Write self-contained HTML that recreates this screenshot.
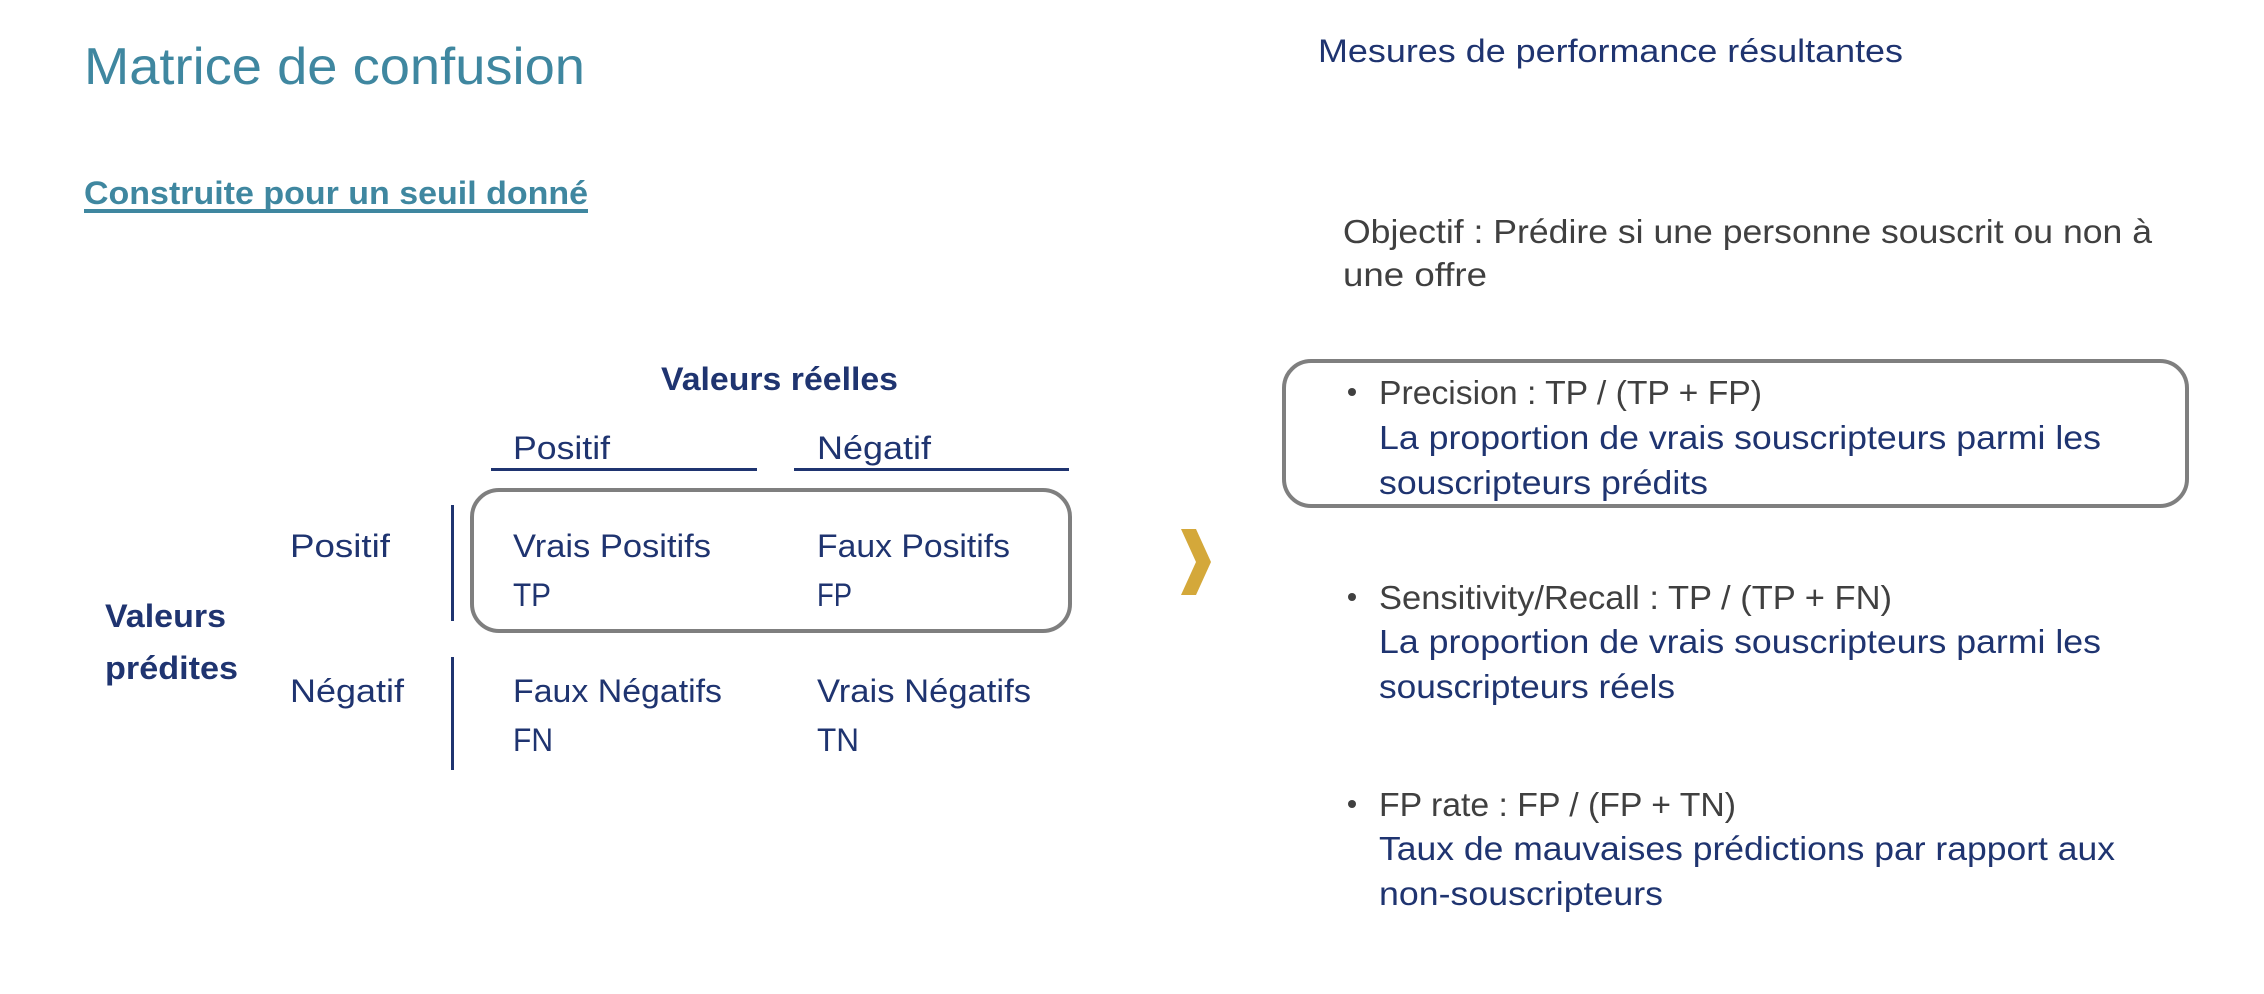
<!DOCTYPE html>
<html><head><meta charset="utf-8"><style>
html,body{margin:0;padding:0;background:#fff;width:2264px;height:994px;overflow:hidden}
svg{display:block}
text{font-family:"Liberation Sans",sans-serif;}
.b{fill:#1f3470}
.g{fill:#404040}
</style></head><body>
<svg width="2264" height="994" viewBox="0 0 2264 994" xmlns="http://www.w3.org/2000/svg">
<text x="84" y="84" font-size="52" fill="#3f87a0" textLength="501" lengthAdjust="spacingAndGlyphs">Matrice de confusion</text>
<text x="84" y="204" font-size="32" font-weight="bold" fill="#3f87a0" textLength="504" lengthAdjust="spacingAndGlyphs">Construite pour un seuil donné</text>
<rect x="84" y="209" width="504" height="4" fill="#3f87a0"/>

<text x="661" y="390" font-size="32" font-weight="bold" class="b" textLength="237" lengthAdjust="spacingAndGlyphs">Valeurs réelles</text>
<text x="513" y="459" font-size="32" class="b" textLength="97" lengthAdjust="spacingAndGlyphs">Positif</text>
<text x="817" y="459" font-size="32" class="b" textLength="114" lengthAdjust="spacingAndGlyphs">Négatif</text>
<rect x="491" y="468" width="266" height="3" fill="#1f3470"/>
<rect x="794" y="468" width="275" height="3" fill="#1f3470"/>

<text x="290" y="557" font-size="32" class="b" textLength="100" lengthAdjust="spacingAndGlyphs">Positif</text>
<rect x="451" y="505" width="3" height="116" fill="#1f3470"/>
<text x="513" y="557" font-size="32" class="b" textLength="198" lengthAdjust="spacingAndGlyphs">Vrais Positifs</text>
<text x="513" y="606" font-size="32" class="b" textLength="38" lengthAdjust="spacingAndGlyphs">TP</text>
<text x="817" y="557" font-size="32" class="b" textLength="193" lengthAdjust="spacingAndGlyphs">Faux Positifs</text>
<text x="817" y="606" font-size="32" class="b" textLength="35" lengthAdjust="spacingAndGlyphs">FP</text>
<rect x="472" y="490" width="598" height="141" rx="27" fill="none" stroke="#7f7f7f" stroke-width="4"/>

<text x="105" y="627" font-size="32" font-weight="bold" class="b" textLength="121" lengthAdjust="spacingAndGlyphs">Valeurs</text>
<text x="105" y="679" font-size="32" font-weight="bold" class="b" textLength="133" lengthAdjust="spacingAndGlyphs">prédites</text>

<text x="290" y="702" font-size="32" class="b" textLength="114" lengthAdjust="spacingAndGlyphs">Négatif</text>
<rect x="451" y="657" width="3" height="113" fill="#1f3470"/>
<text x="513" y="702" font-size="32" class="b" textLength="209" lengthAdjust="spacingAndGlyphs">Faux Négatifs</text>
<text x="513" y="751" font-size="32" class="b" textLength="40" lengthAdjust="spacingAndGlyphs">FN</text>
<text x="817" y="702" font-size="32" class="b" textLength="214" lengthAdjust="spacingAndGlyphs">Vrais Négatifs</text>
<text x="817" y="751" font-size="32" class="b" textLength="42" lengthAdjust="spacingAndGlyphs">TN</text>

<polygon points="1181,529 1196,529 1211,562 1196,595 1181,595 1196,562" fill="#d4a83a"/>

<text x="1318" y="62" font-size="32" class="b" textLength="585" lengthAdjust="spacingAndGlyphs">Mesures de performance résultantes</text>
<text x="1343" y="243" font-size="33" class="g" textLength="809" lengthAdjust="spacingAndGlyphs">Objectif : Prédire si une personne souscrit ou non à</text>
<text x="1343" y="286" font-size="33" class="g" textLength="144" lengthAdjust="spacingAndGlyphs">une offre</text>

<rect x="1284" y="361" width="903" height="145" rx="27" fill="none" stroke="#7f7f7f" stroke-width="4"/>
<circle cx="1352" cy="392" r="4" fill="#404040"/>
<text x="1379" y="404" font-size="33" class="g" textLength="383" lengthAdjust="spacingAndGlyphs">Precision : TP / (TP + FP)</text>
<text x="1379" y="449" font-size="33" class="b" textLength="722" lengthAdjust="spacingAndGlyphs">La proportion de vrais souscripteurs parmi les</text>
<text x="1379" y="494" font-size="33" class="b" textLength="329" lengthAdjust="spacingAndGlyphs">souscripteurs prédits</text>

<circle cx="1352" cy="597" r="4" fill="#404040"/>
<text x="1379" y="609" font-size="33" class="g" textLength="513" lengthAdjust="spacingAndGlyphs">Sensitivity/Recall : TP / (TP + FN)</text>
<text x="1379" y="653" font-size="33" class="b" textLength="722" lengthAdjust="spacingAndGlyphs">La proportion de vrais souscripteurs parmi les</text>
<text x="1379" y="698" font-size="33" class="b" textLength="296" lengthAdjust="spacingAndGlyphs">souscripteurs réels</text>

<circle cx="1352" cy="804" r="4" fill="#404040"/>
<text x="1379" y="816" font-size="33" class="g" textLength="357" lengthAdjust="spacingAndGlyphs">FP rate : FP / (FP + TN)</text>
<text x="1379" y="860" font-size="33" class="b" textLength="736" lengthAdjust="spacingAndGlyphs">Taux de mauvaises prédictions par rapport aux</text>
<text x="1379" y="905" font-size="33" class="b" textLength="284" lengthAdjust="spacingAndGlyphs">non-souscripteurs</text>
</svg>
</body></html>
